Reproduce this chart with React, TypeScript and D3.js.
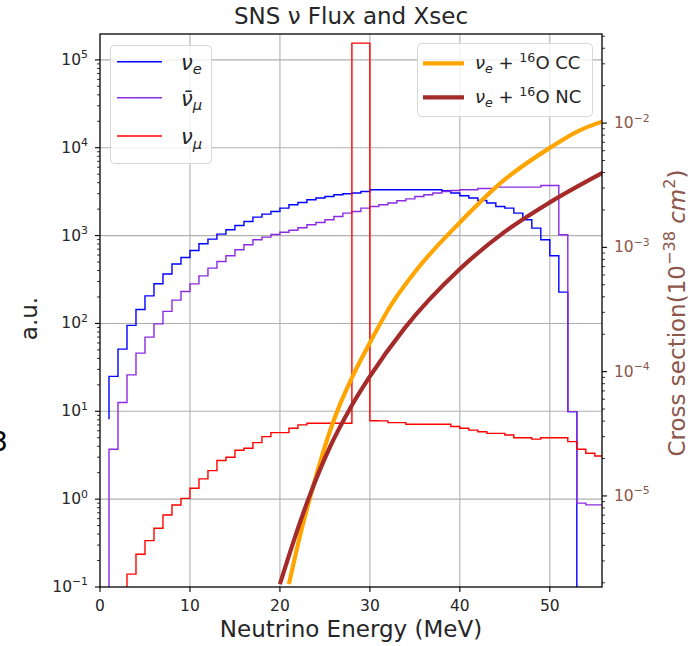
import React, { useRef, useEffect } from "react";
import * as d3 from "d3";

// step curves (matplotlib where="pre"): entry 0 is the start point at FLUX_START MeV,
// entry i is the value on the bin (i, i+1] MeV
const FLUX_START = 1;
const nueFlux = [
  8.1, 25, 51, 95, 144, 206, 283, 365, 474, 563, 677, 807, 912, 1040, 1164, 1303, 1448, 1624,
  1757, 1880, 2055, 2243, 2383, 2556, 2673, 2789, 2917, 2990, 3050, 3176, 3325, 3325, 3325,
  3325, 3325, 3325, 3325, 3325, 3240, 3050, 2840, 2673, 2512, 2345, 2144, 2055, 1803, 1514,
  1217, 895, 589, 227, 9.9, 0,
];
const numubarFlux = [
  0, 3.7, 12.6, 26, 45.9, 69.8, 98.9, 137, 184, 231, 282, 348, 426, 507, 589, 689, 785, 895,
  960, 1030, 1090, 1150, 1230, 1327, 1409, 1514, 1650, 1803, 1880, 2055, 2144, 2243, 2345,
  2490, 2620, 2789, 2917, 3050, 3176, 3260, 3325, 3325, 3440, 3440, 3565, 3565, 3565, 3565,
  3565, 3720, 3720, 1021, 9.9, 0.9, 0.86, 0.86,
];
const numuFlux = [
  0, 0, 0, 0.14, 0.236, 0.337, 0.466, 0.661, 0.859, 1.02, 1.33, 1.7, 2.11, 2.75, 3.0, 3.6, 3.8,
  4.4, 5.15, 5.72, 5.72, 6.42, 7.0, 7.3, 7.3, 7.3, 7.3, 7.3, 155000, 155000, 7.8, 7.78, 7.43,
  7.43, 7.13, 7.13, 7.13, 7.13, 7.13, 6.7, 6.42, 6.1, 5.85, 5.6, 5.6, 5.38, 5.0, 5.0, 4.82, 5.0,
  5.0, 5.0, 4.52, 3.7, 3.33, 3.1,
];

// cross sections, 10^-38 cm^2
const ccEnergy = [21.0, 22.2, 23.4, 24.5, 25.6, 26.7, 27.8, 29.85, 32.3, 35.2, 40, 44.9, 50, 53.1, 55.9];
const ccXsec = [
  1.95e-6, 4.68e-6, 1.0e-5, 1.9e-5, 3.39e-5, 5.5e-5, 8.32e-5, 1.63e-4, 3.39e-4, 6.61e-4, 1.585e-3,
  3.47e-3, 6.32e-3, 8.59e-3, 1.033e-2,
];
const ncEnergy = [20.0, 21.5, 23.2, 25.6, 27.8, 29.85, 33.8, 40, 44.9, 50, 55.9];
const ncXsec = [1.95e-6, 4.27e-6, 9.6e-6, 2.51e-5, 5.06e-5, 8.81e-5, 2.21e-4, 6.7e-4, 1.32e-3, 2.3e-3, 3.99e-3];

const xTicks = [0, 10, 20, 30, 40, 50];
const leftExponents = [-1, 0, 1, 2, 3, 4, 5];
const rightExponents = [-5, -4, -3, -2];

const FONT = "DejaVu Sans, sans-serif";
const BROWN = "#8c564b";
const INK = "#262626";

type Part = { t: string; sup?: boolean; sub?: boolean; italic?: boolean };

function writeParts(text: any, parts: Part[], size: number) {
  let shift = 0;
  parts.forEach((p) => {
    const target = p.sup ? -0.42 * size : p.sub ? 0.22 * size : 0;
    const span = text.append("tspan").text(p.t);
    if (target !== shift) span.attr("dy", target - shift);
    shift = target;
    if (p.sup || p.sub) span.attr("font-size", size * 0.7);
    if (p.italic) span.attr("font-style", "italic");
  });
}

const App = () => {
  const ref = useRef<SVGSVGElement>(null);

  useEffect(() => {
    const width = 690;
    const height = 646;
    const left = 100;
    const right = 602;
    const top = 34;
    const bottom = 587;

    const svg = d3.select(ref.current);
    svg.selectAll("*").remove();
    svg.attr("width", width).attr("height", height).style("font-family", FONT);

    const x = d3.scaleLinear().domain([0, 55.8]).range([left, right]);
    const yL = d3.scaleLog().domain([0.1, 1.97e5]).range([bottom, top]);
    const yR = d3.scaleLog().domain([1.85e-6, 0.0521]).range([bottom, top]);

    svg.append("rect").attr("width", width).attr("height", height).attr("fill", "white");

    svg
      .append("clipPath")
      .attr("id", "plot-clip")
      .append("rect")
      .attr("x", left)
      .attr("y", top)
      .attr("width", right - left)
      .attr("height", bottom - top);

    // grid
    const grid = svg.append("g").attr("stroke", "#b0b0b0").attr("stroke-width", 1.1);
    xTicks.slice(1).forEach((t) => {
      grid.append("line").attr("x1", x(t)).attr("x2", x(t)).attr("y1", top).attr("y2", bottom);
    });
    leftExponents.slice(1).forEach((e) => {
      grid.append("line").attr("x1", left).attr("x2", right).attr("y1", yL(10 ** e)).attr("y2", yL(10 ** e));
    });

    // flux step curves
    const plot = svg.append("g").attr("clip-path", "url(#plot-clip)");
    const step = d3
      .line<number>()
      .x((_, i) => x(FLUX_START + i))
      .y((v) => (v > 0 ? yL(v) : bottom + 30))
      .curve(d3.curveStepBefore);

    const fluxes = [
      { data: nueFlux, color: "#0000ff" },
      { data: numubarFlux, color: "#8a2be2" },
      { data: numuFlux, color: "#ff0000" },
    ];
    fluxes.forEach((f) => {
      plot
        .append("path")
        .attr("d", step(f.data))
        .attr("fill", "none")
        .attr("stroke", f.color)
        .attr("stroke-width", 1.4);
    });

    // cross sections on right axis
    const xsecLine = (E: number[], S: number[]) =>
      d3
        .line<number>()
        .x((e) => x(e))
        .y((_, i) => yR(S[i]))
        .curve(d3.curveMonotoneX)(E);
    plot
      .append("path")
      .attr("d", xsecLine(ccEnergy, ccXsec))
      .attr("fill", "none")
      .attr("stroke", "#ffa500")
      .attr("stroke-width", 4.2);
    plot
      .append("path")
      .attr("d", xsecLine(ncEnergy, ncXsec))
      .attr("fill", "none")
      .attr("stroke", "#a52a2a")
      .attr("stroke-width", 4.2);

    // spines
    svg
      .append("rect")
      .attr("x", left)
      .attr("y", top)
      .attr("width", right - left)
      .attr("height", bottom - top)
      .attr("fill", "none")
      .attr("stroke", "black")
      .attr("stroke-width", 1.3);

    const tickFs = 15.5;
    // bottom axis
    xTicks.forEach((t) => {
      svg.append("line").attr("x1", x(t)).attr("x2", x(t)).attr("y1", bottom).attr("y2", bottom + 5).attr("stroke", "black").attr("stroke-width", 1.1);
      svg
        .append("text")
        .attr("x", x(t))
        .attr("y", bottom + 24)
        .attr("text-anchor", "middle")
        .attr("font-size", tickFs)
        .attr("fill", INK)
        .text(t);
    });

    // left log axis
    const [l0, l1] = yL.domain();
    for (let e = -1; e <= 5; e++) {
      for (let m = 1; m <= 9; m++) {
        const v = m * 10 ** e;
        if (v < l0 || v > l1) continue;
        const len = m === 1 ? 5 : 3;
        svg.append("line").attr("x1", left - len).attr("x2", left).attr("y1", yL(v)).attr("y2", yL(v)).attr("stroke", "black").attr("stroke-width", m === 1 ? 1.1 : 0.8);
      }
    }
    leftExponents.forEach((e) => {
      const t = svg
        .append("text")
        .attr("x", left - 12)
        .attr("y", yL(10 ** e) + 5)
        .attr("text-anchor", "end")
        .attr("font-size", tickFs)
        .attr("fill", INK);
      writeParts(t, [{ t: "10" }, { t: e < 0 ? "\u2212" + -e : String(e), sup: true }], tickFs);
    });

    // right log axis
    const [r0, r1] = yR.domain();
    for (let e = -6; e <= -2; e++) {
      for (let m = 1; m <= 9; m++) {
        const v = m * 10 ** e;
        if (v < r0 || v > r1) continue;
        const len = m === 1 ? 5 : 3;
        svg.append("line").attr("x1", right).attr("x2", right + len).attr("y1", yR(v)).attr("y2", yR(v)).attr("stroke", "black").attr("stroke-width", m === 1 ? 1.1 : 0.8);
      }
    }
    rightExponents.forEach((e) => {
      const t = svg
        .append("text")
        .attr("x", right + 12)
        .attr("y", yR(10 ** e) + 5)
        .attr("font-size", tickFs)
        .attr("fill", BROWN);
      writeParts(t, [{ t: "10" }, { t: "\u2212" + -e, sup: true }], tickFs);
    });

    // titles and labels
    const labelFs = 23;
    svg
      .append("text")
      .attr("x", (left + right) / 2)
      .attr("y", 24)
      .attr("text-anchor", "middle")
      .attr("font-size", labelFs)
      .attr("fill", INK)
      .text("SNS \u03bd Flux and Xsec");
    svg
      .append("text")
      .attr("x", (left + right) / 2)
      .attr("y", 637)
      .attr("text-anchor", "middle")
      .attr("font-size", labelFs)
      .attr("fill", INK)
      .text("Neutrino Energy (MeV)");
    svg
      .append("text")
      .attr("transform", `translate(37, ${(top + bottom) / 2 + 8}) rotate(-90)`)
      .attr("text-anchor", "middle")
      .attr("font-size", labelFs)
      .attr("fill", INK)
      .text("a.u.");
    const rl = svg
      .append("text")
      .attr("transform", `translate(685, 313) rotate(-90)`)
      .attr("text-anchor", "middle")
      .attr("font-size", labelFs)
      .attr("fill", BROWN);
    writeParts(
      rl,
      [
        { t: "Cross section(10" },
        { t: "\u221238", sup: true },
        { t: " " },
        { t: "cm", italic: true },
        { t: "2", sup: true },
        { t: ")" },
      ],
      labelFs
    );

    // stray text cut at the left edge, as in the source figure
    svg.append("text").attr("x", 8).attr("y", 451).attr("text-anchor", "end").attr("font-size", 27).text("3");

    // legend 1
    const lg1 = svg.append("g");
    lg1
      .append("rect")
      .attr("x", 110.5)
      .attr("y", 45.5)
      .attr("width", 101)
      .attr("height", 118)
      .attr("rx", 4)
      .attr("fill", "white")
      .attr("fill-opacity", 0.8)
      .attr("stroke", "#d6d6d6");
    const lg1Items: { color: string; parts: Part[] }[] = [
      { color: "#0000ff", parts: [{ t: "\u03bd", italic: true }, { t: "e", sub: true, italic: true }] },
      { color: "#8a2be2", parts: [{ t: "\u03bd\u0304", italic: true }, { t: "\u03bc", sub: true, italic: true }] },
      { color: "#ff0000", parts: [{ t: "\u03bd", italic: true }, { t: "\u03bc", sub: true, italic: true }] },
    ];
    const lg1Y = [61.7, 97.7, 136];
    lg1Items.forEach((it, i) => {
      lg1.append("line").attr("x1", 117).attr("x2", 162).attr("y1", lg1Y[i]).attr("y2", lg1Y[i]).attr("stroke", it.color).attr("stroke-width", 1.4);
      const t = lg1.append("text").attr("x", 181).attr("y", lg1Y[i] + 8).attr("font-size", 21).attr("fill", INK);
      writeParts(t, it.parts, 21);
    });

    // legend 2
    const lg2 = svg.append("g");
    lg2
      .append("rect")
      .attr("x", 417.5)
      .attr("y", 43.5)
      .attr("width", 175)
      .attr("height", 73)
      .attr("rx", 4)
      .attr("fill", "white")
      .attr("fill-opacity", 0.8)
      .attr("stroke", "#d6d6d6");
    const lg2Items = [
      { color: "#ffa500", name: "CC" },
      { color: "#a52a2a", name: "NC" },
    ];
    const lg2Y = [63.3, 97.3];
    lg2Items.forEach((it, i) => {
      lg2.append("line").attr("x1", 423).attr("x2", 464).attr("y1", lg2Y[i]).attr("y2", lg2Y[i]).attr("stroke", it.color).attr("stroke-width", 4.2);
      const t = lg2.append("text").attr("x", 475).attr("y", lg2Y[i] + 6).attr("font-size", 18).attr("fill", INK);
      writeParts(
        t,
        [
          { t: "\u03bd", italic: true },
          { t: "e", sub: true, italic: true },
          { t: " + " },
          { t: "16", sup: true },
          { t: "O " + it.name },
        ],
        18
      );
    });
  }, []);

  return <svg ref={ref} style={{ position: "absolute", left: 0, top: 0 }} />;
};

export default App;
